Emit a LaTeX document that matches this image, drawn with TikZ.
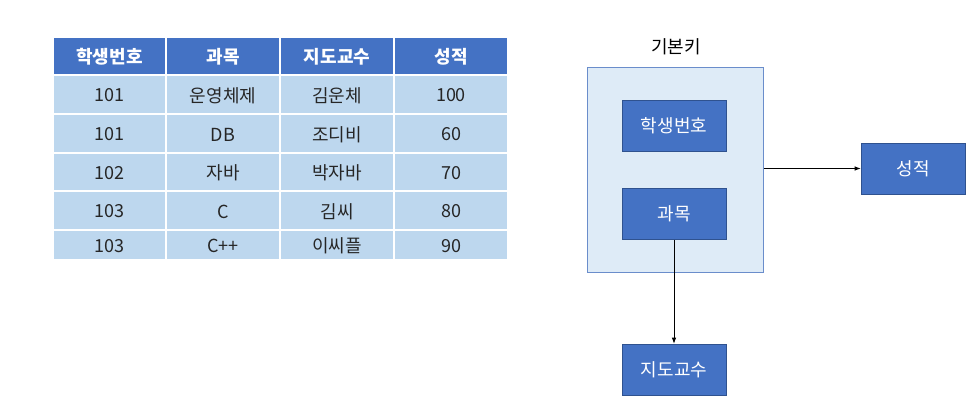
\documentclass[tikz,border=0pt]{standalone}
\usepackage{fontspec}
\setmainfont{Noto Sans CJK KR}
\usetikzlibrary{arrows.meta}
\definecolor{hdr}{HTML}{4472C4}
\definecolor{rowc}{HTML}{BDD7EE}
\definecolor{pk}{HTML}{DEEBF7}
\definecolor{pkline}{HTML}{6A8DCB}
\definecolor{boxline}{HTML}{2F528F}
\begin{document}
\begin{tikzpicture}[x=1pt,y=-1pt,
  hcell/.style={draw=white,line width=1.5pt,fill=hdr},
  dcell/.style={draw=white,line width=1.5pt,fill=rowc},
  htxt/.style={text=white,font=\fontsize{18}{20}\selectfont\bfseries},
  dtxt/.style={text=black!85,font=\fontsize{18}{20}\selectfont},
  ebox/.style={draw=boxline,line width=0.6pt,fill=hdr,text=white,minimum width=104pt,minimum height=51pt,font=\fontsize{18}{20}\selectfont},
  arr/.style={-{Latex[length=6pt,width=4.5pt]},line width=0.8pt,black}]
\useasboundingbox (0,0) rectangle (975,403);
% table
\def\xs{{53,166,280,394,508}}
\def\ys{{37,75,114,153,191,230,260}}
\foreach \a/\b/\c/\d [count=\i from 0] in {
  학생번호/과목/지도교수/성적,
  101/운영체제/김운체/100,
  101/DB/조디비/60,
  102/자바/박자바/70,
  103/C/김씨/80,
  103/C++/이씨플/90}{
  \pgfmathsetmacro\ya{\ys[\i]}
  \pgfmathsetmacro\yb{\ys[\i+1]}
  \ifnum\i=0 \def\cst{hcell}\def\tst{htxt}\else\def\cst{dcell}\def\tst{dtxt}\fi
  \foreach \t [count=\j from 0] in {\a,\b,\c,\d}{
    \pgfmathsetmacro\xa{\xs[\j]}
    \pgfmathsetmacro\xb{\xs[\j+1]}
    \draw[\cst] (\xa,\ya) rectangle (\xb,\yb);
    \node[\tst] (c\i\j) at ({(\xa+\xb)/2},{(\ya+\yb)/2+1}) {\t};
  }
}
% diagram
\node[draw=pkline,line width=0.8pt,fill=pk,minimum width=176pt,minimum height=205pt,anchor=north west] (pk) at (587,67) {};
\node[font=\fontsize{18}{20}\selectfont] (pklbl) at (676,47) {기본키};
\node[ebox] (sid) at (674,125.5) {학생번호};
\node[ebox] (subj) at (674,214) {과목};
\node[ebox] (grade) at (913,168.5) {성적};
\node[ebox] (prof) at (674,369.5) {지도교수};
\draw[arr] (pk.east |- grade) -- (grade.west);
\draw[arr] (subj.south) -- (prof.north);
\end{tikzpicture}
\end{document}
